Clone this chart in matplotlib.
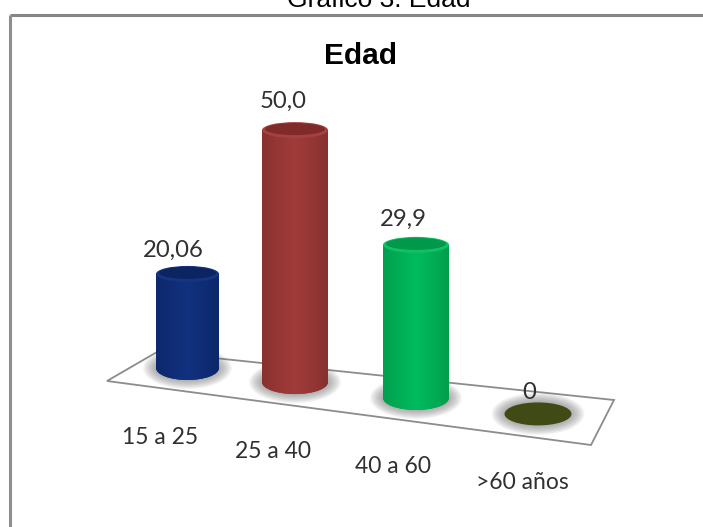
import numpy as np
import matplotlib
matplotlib.use("Agg")
import matplotlib.pyplot as plt
from matplotlib.patches import Ellipse, Polygon, Rectangle
from matplotlib.colors import LinearSegmentedColormap

categories = ["15 a 25", "25 a 40", "40 a 60", ">60 años"]
values = [20.06, 50.0, 29.9, 0]
value_labels = ["20,06", "50,0", "29,9", "0"]

# fake 3D layout, everything is in pixels of the 703x527 picture
slot_x = [187.5, 295, 416, 538]
px_per_unit = [4.69, 5.04, 5.12, 5.04]
radius_x = [31.5, 33, 33, 33.5]
label_dx = [-27, -22, -23, -16]
value_dx = [-14, -12, -13, -9]
value_dy = [-24, -29, -26, -21]
floor = [(107, 381), (157, 352), (614, 400), (591, 445)]
base_y0, base_slope = 368, 0.131
base_ry, top_ry = 12, 8

side_colors = [
    ["#0d286c", "#0f2d76", "#11327f", "#0f2d76", "#0c276a"],
    ["#883130", "#963735", "#a03c3a", "#963735", "#873030"],
    ["#00a04e", "#00ae56", "#00bc5e", "#00ae56", "#009f4c"],
    ["#3f4a14", "#3f4a14", "#3f4a14", "#3f4a14", "#3f4a14"],
]
rim_colors = ["#15357f", "#a5423f", "#10c066", "#3f4a14"]
top_colors = ["#0c2460", "#7e2b2a", "#00984a", "#3f4a14"]

fig = plt.figure(figsize=(7.03, 5.27), dpi=100)
ax = fig.add_axes([0, 0, 1, 1])
ax.set_xlim(0, 703)
ax.set_ylim(527, 0)
ax.axis("off")

# only the top and left side of the chart frame are in the picture
ax.plot([9.5, 703], [14.5, 14.5], color="#868686", lw=2.2, solid_capstyle="butt")
ax.plot([9.5, 9.5], [14.5, 527], color="#8e8e8e", lw=2.2, solid_capstyle="butt")

ax.add_patch(Polygon(floor, closed=True, fc="white", ec="#8c8c8c", lw=1.3, zorder=1))


def draw_shadow(x, y, rx):
    for grow in np.linspace(13, 1, 12):
        ax.add_patch(Ellipse((x, y), 2 * (rx + grow), 2 * (base_ry + grow * 0.7),
                             fc="#707070", ec="none", alpha=0.06, zorder=2))


for i, val in enumerate(values):
    x = slot_x[i]
    rx = radius_x[i]
    base = base_y0 + base_slope * (x - slot_x[0])
    top = base - val * px_per_unit[i]
    draw_shadow(x, base, rx)

    if val > 0:
        cmap = LinearSegmentedColormap.from_list(f"side{i}", side_colors[i])
        shade = np.linspace(0, 1, 64).reshape(1, -1)
        img = ax.imshow(shade, cmap=cmap, aspect="auto",
                        extent=(x - rx, x + rx, base + base_ry, top), zorder=3)
        body = Rectangle((x - rx, top), 2 * rx, base - top, fc="none", ec="none", zorder=3)
        bottom = Ellipse((x, base), 2 * rx, 2 * base_ry, fc=side_colors[i][1], ec="none", zorder=3)
        ax.add_patch(bottom)
        ax.add_patch(body)
        img.set_clip_path(body)
        # the lower rim needs the same sideways shading
        img2 = ax.imshow(shade, cmap=cmap, aspect="auto",
                         extent=(x - rx, x + rx, base + base_ry, base - base_ry), zorder=3)
        img2.set_clip_path(bottom)
        ax.add_patch(Ellipse((x, top), 2 * rx, 2 * top_ry, fc=rim_colors[i], ec="none", zorder=4))
        ax.add_patch(Ellipse((x, top - 1), 2 * rx - 6, 2 * top_ry - 4, fc=top_colors[i], ec="none", zorder=4))
    else:
        ax.add_patch(Ellipse((x, top), 2 * rx, 2 * base_ry - 1, fc=top_colors[i], ec="none", zorder=4))

    ax.text(x + value_dx[i], top + value_dy[i], value_labels[i], ha="center", va="center",
            fontsize=17.2, family="Lato", color="#303030", zorder=5)
    ax.text(x + label_dx[i], base + 69, categories[i], ha="center", va="center",
            fontsize=16.5, family="Lato", color="#303030", zorder=5)

ax.set_xlim(0, 703)
ax.set_ylim(527, 0)

ax.text(360.5, 64, "Edad", ha="center", va="baseline", fontsize=21.5, fontweight="bold",
        family="Liberation Sans", color="black")
ax.text(379, 7, "Gráfico 3. Edad", ha="center", va="baseline", fontsize=19,
        family="Liberation Sans", color="black")

fig.savefig("out.png", dpi=100)
